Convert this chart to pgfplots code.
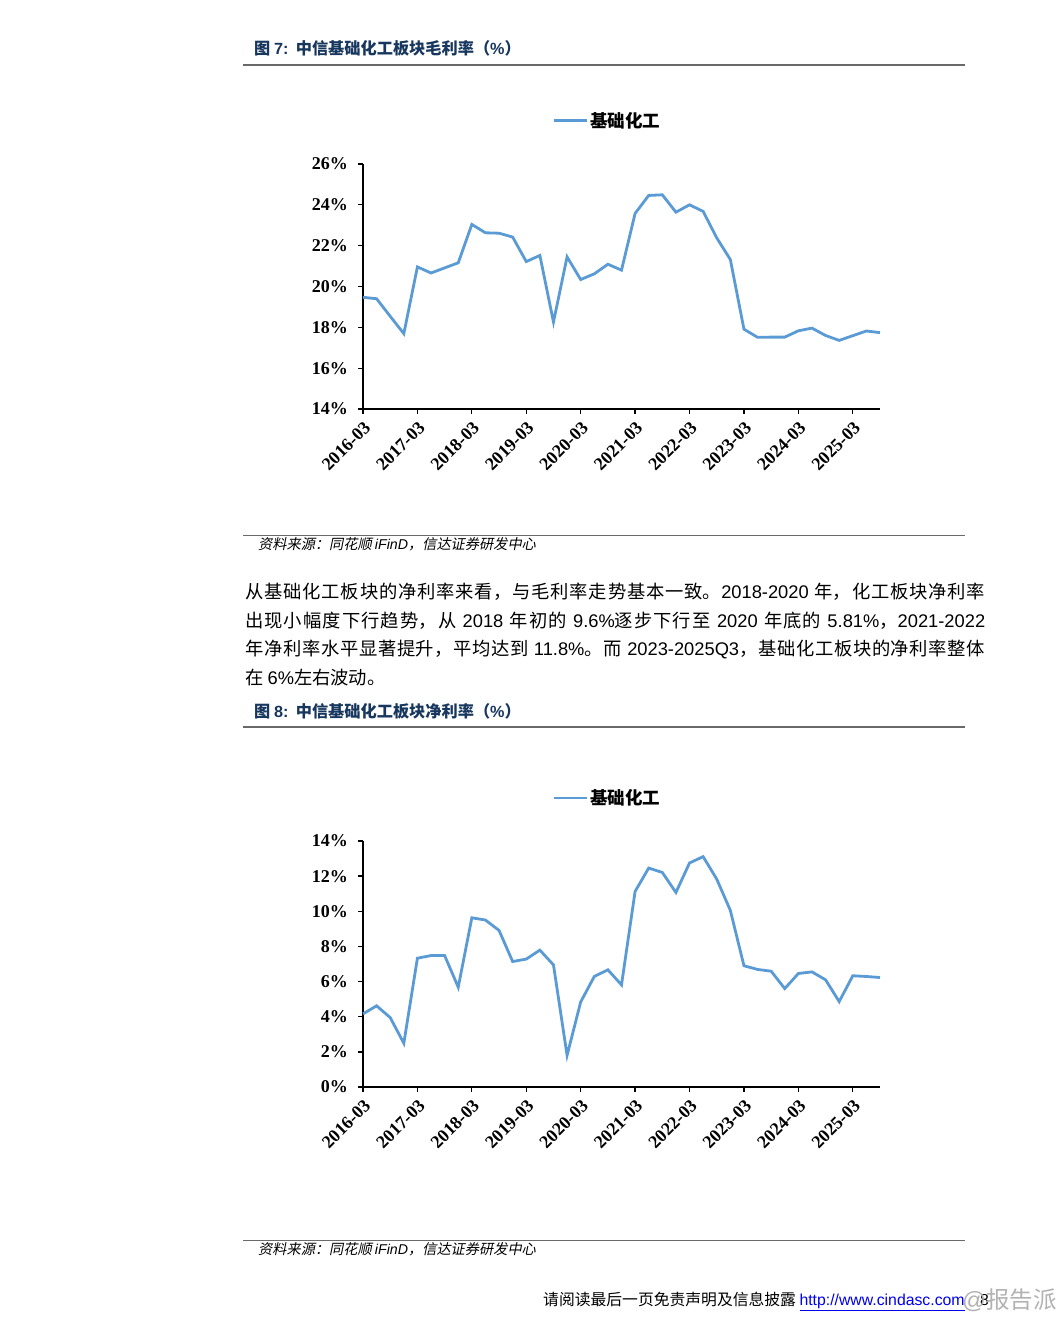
\documentclass[border=0pt]{standalone}
\usepackage{pgfplots}
\pgfplotsset{compat=1.18}
\usepackage{fontspec}
\setmainfont{Noto Sans CJK SC}
\newfontfamily\lat{Liberation Sans}
\newfontfamily\tnr{Liberation Serif}
\newfontfamily\cjkit[FakeSlant=0.2]{Noto Sans CJK SC}
\XeTeXlinebreaklocale "zh"
\XeTeXlinebreakskip=0pt plus 1pt

\definecolor{lineblue}{RGB}{91,155,213}
\definecolor{titleblue}{RGB}{23,55,94}
\definecolor{rulegray}{RGB}{105,105,105}
\definecolor{urlblue}{RGB}{0,0,238}

\pgfplotsset{
  cindachart/.style={
    scale only axis,
    width=517pt,
    anchor=south west,
    axis lines=left,
    axis line style={-, line width=1.3pt, black},
    tick style={line width=1.3pt, black},
    tick align=outside,
    major tick length=5pt,
    xmin=0, xmax=38,
    xtick={0,4,...,36},
    xticklabels={2016-03,2017-03,2018-03,2019-03,2020-03,2021-03,2022-03,2023-03,2024-03,2025-03},
    x tick label style={rotate=45, anchor=north east, inner sep=4.5pt},
    y tick label style={inner sep=0pt, xshift=-10pt},
    /pgf/number format/assume math mode=true,
    tick label style={font=\fontsize{18}{18}\selectfont\tnr\bfseries},
    clip=false,
    legend style={draw=none, fill=none, anchor=west, inner sep=0pt,
      font=\fontsize{17.5}{18}\selectfont\bfseries},
    legend image code/.code={\draw[#1, line width=2.8pt] (0pt,0pt) -- (33pt,0pt);},
  }
}

\begin{document}
\begin{tikzpicture}[x=1pt, y=1pt]
\useasboundingbox[fill=white] (0,0) rectangle (1061,1320);

% ---------- figure 7 ----------
\node[anchor=base west, inner sep=0pt, text=titleblue, font=\fontsize{16.2}{17}\selectfont\bfseries]
  at (254,1265) {图 {\lat 7:}\hspace{0.45em}中信基础化工板块毛利率（{\lat\%}）};
\draw[rulegray, line width=1.6pt] (243,1255) -- (965,1255);

\begin{axis}[cindachart, at={(363pt,911pt)}, height=245pt,
  ymin=14, ymax=26, ytick={14,16,...,26},
  yticklabels={14\%,16\%,18\%,20\%,22\%,24\%,26\%},
  legend style={at={(0.366,1.176)}}]
\addplot[lineblue, line width=2.8pt] coordinates {
(0,19.47) (1,19.40) (2,18.54) (3,17.69) (4,20.96) (5,20.66) (6,20.91) (7,21.16)
(8,23.04) (9,22.63) (10,22.61) (11,22.42) (12,21.22) (13,21.52) (14,18.26) (15,21.45)
(16,20.34) (17,20.62) (18,21.09) (19,20.80) (20,23.58) (21,24.46) (22,24.49) (23,23.64)
(24,24.00) (25,23.68) (26,22.38) (27,21.32) (28,17.91) (29,17.51) (30,17.52) (31,17.52)
(32,17.83) (33,17.96) (34,17.60) (35,17.36) (36,17.59) (37,17.82) (38,17.74)};
\addlegendentry{基础化工}
\end{axis}

\draw[rulegray, line width=0.8pt] (243,785) -- (965,785);
\node[anchor=base west, inner sep=0pt, font=\fontsize{14.2}{15}\selectfont\cjkit]
  at (258,770) {资料来源：同花顺 {\lat\itshape iFinD}，信达证券研发中心};

% ---------- paragraph ----------
\node[anchor=north west, inner sep=0pt, text width=740pt, align=justify,
  font=\fontsize{18.3}{28.5}\selectfont] at (245,737) {%
从基础化工板块的净利率来看，与毛利率走势基本一致。{\lat 2018-2020} 年，化工板块净利率\linebreak
出现小幅度下行趋势，从 {\lat 2018} 年初的 {\lat 9.6\%}逐步下行至 {\lat 2020} 年底的 {\lat 5.81\%}，{\lat 2021-2022}\linebreak
年净利率水平显著提升，平均达到 {\lat 11.8\%}。而 {\lat 2023-2025Q3}，基础化工板块的净利率整体\linebreak
在 {\lat 6\%}左右波动。};

% ---------- figure 8 ----------
\node[anchor=base west, inner sep=0pt, text=titleblue, font=\fontsize{16.2}{17}\selectfont\bfseries]
  at (254,602) {图 {\lat 8:}\hspace{0.45em}中信基础化工板块净利率（{\lat\%}）};
\draw[rulegray, line width=1.6pt] (243,593) -- (965,593);

\begin{axis}[cindachart, at={(363pt,233pt)}, height=246pt,
  ymin=0, ymax=14, ytick={0,2,...,14},
  yticklabels={0\%,2\%,4\%,6\%,8\%,10\%,12\%,14\%},
  legend style={at={(0.366,1.175)}}]
\addplot[lineblue, line width=2.8pt] coordinates {
(0,4.16) (1,4.62) (2,3.95) (3,2.49) (4,7.33) (5,7.48) (6,7.48) (7,5.68)
(8,9.63) (9,9.50) (10,8.91) (11,7.14) (12,7.28) (13,7.79) (14,6.95) (15,1.80)
(16,4.84) (17,6.29) (18,6.67) (19,5.81) (20,11.13) (21,12.46) (22,12.21) (23,11.07)
(24,12.75) (25,13.11) (26,11.83) (27,10.05) (28,6.90) (29,6.69) (30,6.59) (31,5.60)
(32,6.46) (33,6.55) (34,6.10) (35,4.86) (36,6.33) (37,6.29) (38,6.23)};
\addlegendentry{基础化工}
\end{axis}

\draw[rulegray, line width=0.8pt] (243,80) -- (965,80);
\node[anchor=base west, inner sep=0pt, font=\fontsize{14.2}{15}\selectfont\cjkit]
  at (258,65) {资料来源：同花顺 {\lat\itshape iFinD}，信达证券研发中心};

% ---------- footer ----------
\node[anchor=base west, inner sep=0pt, font=\fontsize{15.8}{16}\selectfont]
  at (543,14) {请阅读最后一页免责声明及信息披露 {\lat\color{urlblue}\underline{http://www.cindasc.com}}};
\node[anchor=base west, inner sep=0pt, font=\fontsize{15.8}{16}\selectfont\lat] at (980,14) {8};
\node[anchor=base west, inner sep=0pt, text=black!30, font=\fontsize{23.5}{25}\selectfont]
  at (962,11) {{\lat @}报告派};
\end{tikzpicture}
\end{document}
